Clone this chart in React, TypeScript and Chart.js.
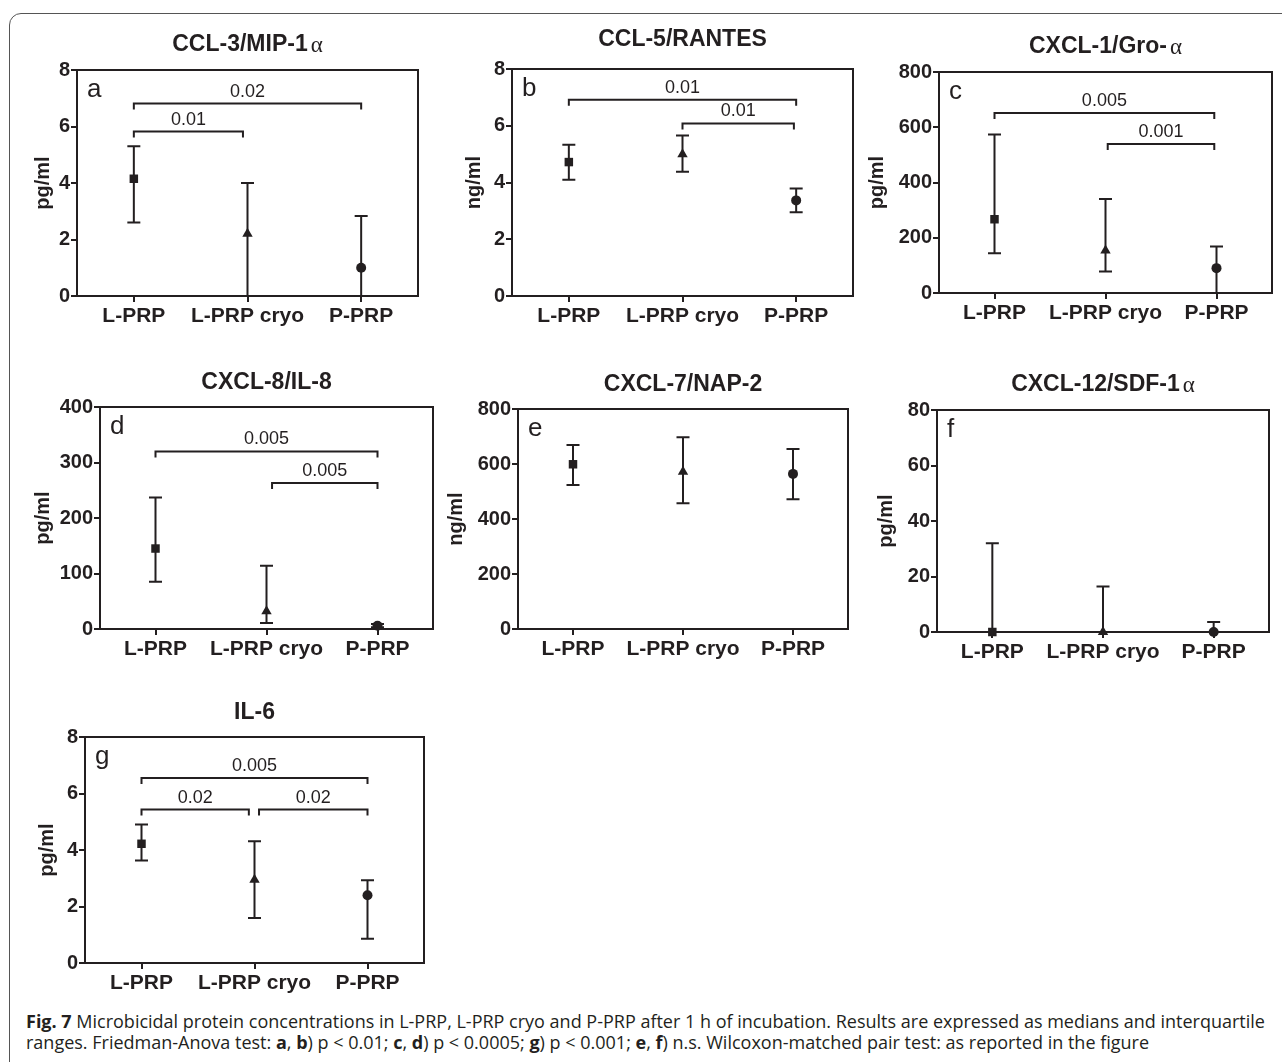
import React, { useEffect, useRef } from "react";
import { Chart, registerables } from "chart.js";

Chart.register(...registerables);

const FONT = "'Liberation Sans', Arial, Helvetica, sans-serif";
const SERIF = "'Liberation Serif', 'DejaVu Serif', serif";
const INK = "#231f20";

// ---------- data ----------
const categories = ["L-PRP", "L-PRP cryo", "P-PRP"];
const markerStyles = ["rect", "triangle", "circle"];

// panel a: CCL-3/MIP-1α (pg/ml)
const aMedian = [4.15, 2.2, 1.0];
const aLow = [2.6, 0, 0];
const aHigh = [5.3, 4.0, 2.83];
const aTicks = [0, 2, 4, 6, 8];
const aBrackets = [
  { from: 0, to: 0.96, level: 5.82, label: "0.01" },
  { from: 0, to: 2, level: 6.81, label: "0.02" },
];

// panel b: CCL-5/RANTES (ng/ml)
const bMedian = [4.72, 5.0, 3.37];
const bLow = [4.1, 4.38, 2.95];
const bHigh = [5.33, 5.66, 3.79];
const bTicks = [0, 2, 4, 6, 8];
const bBrackets = [
  { from: 0, to: 2, level: 6.92, label: "0.01" },
  { from: 1, to: 1.98, level: 6.08, label: "0.01" },
];

// panel c: CXCL-1/Gro-α (pg/ml)
const cMedian = [267, 154, 90];
const cLow = [144, 78, 0];
const cHigh = [574, 340, 168];
const cTicks = [0, 200, 400, 600, 800];
const cBrackets = [
  { from: 0, to: 1.98, level: 652, label: "0.005" },
  { from: 1.02, to: 1.98, level: 539, label: "0.001" },
];

// panel d: CXCL-8/IL-8 (pg/ml)
const dMedian = [145, 32, 6];
const dLow = [85, 11, 3];
const dHigh = [237, 114, 9];
const dTicks = [0, 100, 200, 300, 400];
const dBrackets = [
  { from: 0, to: 2, level: 320, label: "0.005" },
  { from: 1.05, to: 2, level: 263, label: "0.005" },
];

// panel e: CXCL-7/NAP-2 (ng/ml)
const eMedian = [599, 572, 564];
const eLow = [524, 457, 472];
const eHigh = [669, 697, 655];
const eTicks = [0, 200, 400, 600, 800];
const eBrackets: { from: number; to: number; level: number; label: string }[] = [];

// panel f: CXCL-12/SDF-1α (pg/ml)
const fMedian = [0, 0, 0];
const fLow = [0, 0, 0];
const fHigh = [32, 16.4, 3.6];
const fTicks = [0, 20, 40, 60, 80];
const fBrackets: { from: number; to: number; level: number; label: string }[] = [];

// panel g: IL-6 (pg/ml)
const gMedian = [4.22, 2.95, 2.4];
const gLow = [3.63, 1.59, 0.86];
const gHigh = [4.9, 4.31, 2.93];
const gTicks = [0, 2, 4, 6, 8];
const gBrackets = [
  { from: 0, to: 2, level: 6.55, label: "0.005" },
  { from: 0, to: 0.95, level: 5.43, label: "0.02" },
  { from: 1.04, to: 2, level: 5.43, label: "0.02" },
];

// ---------- layout (styles / positions) ----------
type Panel = {
  letter: string;
  title: string;
  titleSuffix: string;
  unit: string;
  median: number[];
  low: number[];
  high: number[];
  ticks: number[];
  brackets: { from: number; to: number; level: number; label: string }[];
  box: { l: number; t: number; r: number; b: number };
  titleGap: number;
  yTitleOffset: number;
};

const panels: Panel[] = [
  { letter: "a", title: "CCL-3/MIP-1", titleSuffix: "α", unit: "pg/ml", median: aMedian, low: aLow, high: aHigh, ticks: aTicks, brackets: aBrackets, box: { l: 77, t: 70, r: 418, b: 296 }, titleGap: 25, yTitleOffset: 34 },
  { letter: "b", title: "CCL-5/RANTES", titleSuffix: "", unit: "ng/ml", median: bMedian, low: bLow, high: bHigh, ticks: bTicks, brackets: bBrackets, box: { l: 512, t: 69, r: 853, b: 296 }, titleGap: 29, yTitleOffset: 38 },
  { letter: "c", title: "CXCL-1/Gro-", titleSuffix: "α", unit: "pg/ml", median: cMedian, low: cLow, high: cHigh, ticks: cTicks, brackets: cBrackets, box: { l: 939, t: 72, r: 1272, b: 293 }, titleGap: 25, yTitleOffset: 62 },
  { letter: "d", title: "CXCL-8/IL-8", titleSuffix: "", unit: "pg/ml", median: dMedian, low: dLow, high: dHigh, ticks: dTicks, brackets: dBrackets, box: { l: 100, t: 407, r: 433, b: 629 }, titleGap: 24, yTitleOffset: 57 },
  { letter: "e", title: "CXCL-7/NAP-2", titleSuffix: "", unit: "ng/ml", median: eMedian, low: eLow, high: eHigh, ticks: eTicks, brackets: eBrackets, box: { l: 518, t: 409, r: 848, b: 629 }, titleGap: 24, yTitleOffset: 62 },
  { letter: "f", title: "CXCL-12/SDF-1", titleSuffix: "α", unit: "pg/ml", median: fMedian, low: fLow, high: fHigh, ticks: fTicks, brackets: fBrackets, box: { l: 937, t: 410, r: 1269, b: 632 }, titleGap: 25, yTitleOffset: 51 },
  { letter: "g", title: "IL-6", titleSuffix: "", unit: "pg/ml", median: gMedian, low: gLow, high: gHigh, ticks: gTicks, brackets: gBrackets, box: { l: 85, t: 737, r: 424, b: 963 }, titleGap: 24, yTitleOffset: 38 },
];

const Y_AXIS_W = 76;
const TOP_PAD = 50;
const X_AXIS_H = 42;
const RIGHT_PAD = 8;

const decorPlugin = {
  id: "panelDecor",
  beforeDatasetsDraw(chart: any, _args: any, opts: any) {
    const p: Panel = opts.panel;
    const { ctx, chartArea: ca, scales } = chart;
    const xs = scales.x;
    const ys = scales.y;
    ctx.save();
    ctx.strokeStyle = INK;
    ctx.fillStyle = INK;
    ctx.lineWidth = 2;
    ctx.lineCap = "butt";
    // top and right frame
    ctx.beginPath();
    ctx.moveTo(ca.left, ca.top);
    ctx.lineTo(ca.right, ca.top);
    ctx.lineTo(ca.right, ca.bottom + 1);
    ctx.stroke();
    // error bars (interquartile range)
    p.low.forEach((lo, i) => {
      const px = xs.getPixelForValue(i);
      const yl = ys.getPixelForValue(lo);
      const yh = ys.getPixelForValue(p.high[i]);
      ctx.beginPath();
      ctx.moveTo(px, yl);
      ctx.lineTo(px, yh);
      ctx.moveTo(px - 6.5, yl);
      ctx.lineTo(px + 6.5, yl);
      ctx.moveTo(px - 6.5, yh);
      ctx.lineTo(px + 6.5, yh);
      ctx.stroke();
    });
    // significance brackets
    ctx.font = `18px ${FONT}`;
    ctx.textAlign = "center";
    ctx.textBaseline = "alphabetic";
    p.brackets.forEach((br) => {
      const x1 = xs.getPixelForValue(br.from);
      const x2 = xs.getPixelForValue(br.to);
      const yy = ys.getPixelForValue(br.level);
      ctx.beginPath();
      ctx.moveTo(x1, yy + 6);
      ctx.lineTo(x1, yy - 1);
      ctx.moveTo(x1 - 1, yy);
      ctx.lineTo(x2 + 1, yy);
      ctx.moveTo(x2, yy - 1);
      ctx.lineTo(x2, yy + 6);
      ctx.stroke();
      ctx.fillText(br.label, (x1 + x2) / 2, yy - 7);
    });
    // panel letter
    ctx.font = `26px ${FONT}`;
    ctx.textAlign = "left";
    ctx.fillText(p.letter, ca.left + 10, ca.top + 27);
    // title
    const mainFont = `bold 23px ${FONT}`;
    const sufFont = `23px ${SERIF}`;
    ctx.font = mainFont;
    const w1 = ctx.measureText(p.title).width;
    ctx.font = sufFont;
    const gap = p.titleSuffix ? 3 : 0;
    const w2 = p.titleSuffix ? ctx.measureText(p.titleSuffix).width : 0;
    const total = w1 + gap + w2;
    const cx = (ca.left + ca.right) / 2;
    const ty = ca.top - p.titleGap;
    ctx.textBaseline = "middle";
    ctx.font = mainFont;
    ctx.fillText(p.title, cx - total / 2, ty);
    if (p.titleSuffix) {
      ctx.font = sufFont;
      ctx.fillText(p.titleSuffix, cx - total / 2 + w1 + gap, ty + 1);
    }
    ctx.restore();
  },
};

function PanelChart({ p }: { p: Panel }) {
  const ref = useRef<HTMLCanvasElement | null>(null);
  const width = p.box.r - p.box.l + Y_AXIS_W + RIGHT_PAD;
  const height = p.box.b - p.box.t + TOP_PAD + X_AXIS_H;
  useEffect(() => {
    if (!ref.current) return;
    const axisFontTick = { family: FONT, size: 20, weight: "bold" as const };
    const chart = new Chart(ref.current, {
      type: "line",
      data: {
        labels: categories,
        datasets: [
          {
            data: p.median,
            showLine: false,
            pointStyle: markerStyles as any,
            pointRadius: [6, 6, 5],
            pointBackgroundColor: INK,
            pointBorderColor: INK,
            pointBorderWidth: 0,
            clip: false as any,
          },
        ],
      },
      options: {
        animation: false,
        responsive: false,
        events: [],
        layout: { padding: { top: TOP_PAD, right: RIGHT_PAD, bottom: 0, left: 0 } },
        plugins: {
          legend: { display: false },
          tooltip: { enabled: false },
          title: { display: false },
          panelDecor: { panel: p },
        } as any,
        scales: {
          x: {
            type: "category",
            offset: true,
            grid: { display: true, drawOnChartArea: false, drawTicks: true, tickLength: 6, color: INK, lineWidth: 2 },
            border: { display: true, color: INK, width: 2 },
            ticks: { color: INK, font: { family: FONT, size: 21, weight: "bold" }, padding: 2, maxRotation: 0, autoSkip: false },
            afterFit: (s: any) => {
              s.height = X_AXIS_H;
            },
          },
          y: {
            min: p.ticks[0],
            max: p.ticks[p.ticks.length - 1],
            grid: { display: true, drawOnChartArea: false, drawTicks: true, tickLength: 6, color: INK, lineWidth: 2 },
            border: { display: true, color: INK, width: 2 },
            ticks: { stepSize: p.ticks[1] - p.ticks[0], color: INK, font: axisFontTick, padding: 1 },
            title: {
              display: true,
              text: p.unit,
              color: INK,
              font: { family: FONT, size: 20, weight: "bold" },
              padding: { top: Math.max(0, Y_AXIS_W - p.yTitleOffset - 12), bottom: 0 },
            },
            afterFit: (s: any) => {
              s.width = Y_AXIS_W;
            },
          },
        },
      },
      plugins: [decorPlugin as any],
    });
    return () => chart.destroy();
  }, [p]);
  return (
    <canvas
      ref={ref}
      width={width}
      height={height}
      style={{
        position: "absolute",
        left: p.box.l - Y_AXIS_W,
        top: p.box.t - TOP_PAD,
        width,
        height,
        display: "block",
      }}
    />
  );
}

export default function App() {
  useEffect(() => {
    document.body.style.margin = "0";
    document.body.style.overflow = "hidden";
  }, []);
  const b = { fontWeight: 700 } as const;
  return (
    <div
      style={{
        position: "absolute",
        left: 0,
        top: 0,
        width: 1282,
        height: 1062,
        overflow: "hidden",
        background: "#fff",
      }}
    >
      <div
        style={{
          position: "absolute",
          left: 9,
          top: 13,
          width: 1400,
          height: 1200,
          border: "1.5px solid #555",
          borderRadius: 12,
          boxSizing: "border-box",
        }}
      />
      {panels.map((p) => (
        <PanelChart key={p.letter} p={p} />
      ))}
      <div
        style={{
          position: "absolute",
          left: 26,
          top: 1011,
          fontFamily: "'Open Sans', 'Noto Sans', sans-serif",
          fontSize: 18,
          lineHeight: "21px",
          letterSpacing: "0px",
          color: INK,
          whiteSpace: "nowrap",
        }}
      >
        <span style={b}>Fig. 7</span> Microbicidal protein concentrations in L-PRP, L-PRP cryo and P-PRP after 1 h of incubation. Results are expressed as medians and interquartile
        <br />
        ranges. Friedman-Anova test: <span style={b}>a</span>, <span style={b}>b</span>) p &lt; 0.01; <span style={b}>c</span>, <span style={b}>d</span>) p &lt; 0.0005; <span style={b}>g</span>) p &lt; 0.001; <span style={b}>e</span>, <span style={b}>f</span>) n.s. Wilcoxon-matched pair test: as reported in the figure
      </div>
    </div>
  );
}
